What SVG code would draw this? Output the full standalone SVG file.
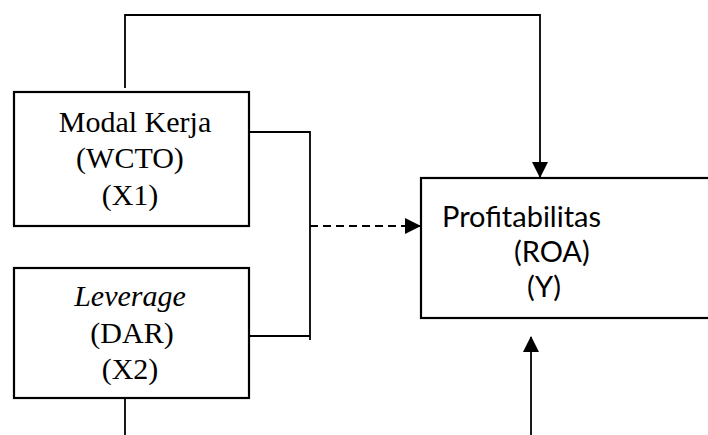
<svg xmlns="http://www.w3.org/2000/svg" width="708" height="435" viewBox="0 0 708 435">
<style>
.box{fill:#fff;stroke:#000;stroke-width:2.2}
.ln{fill:none;stroke:#000;stroke-width:1.8}
.dash{fill:none;stroke:#000;stroke-width:1.8;stroke-dasharray:8 5}
.tm{font-family:"Liberation Serif","Times New Roman",serif;font-size:30px;fill:#000}
.cb{font-family:Lato,"Liberation Sans",sans-serif;font-size:29px;fill:#000}
</style>
<defs>
<marker id="ah" markerWidth="16" markerHeight="16" refX="15" refY="8" orient="auto" markerUnits="userSpaceOnUse">
<path d="M0,0 L16,8 L0,16 Z" fill="#000"/>
</marker>
</defs>
<rect width="708" height="435" fill="#fff"/>
<g id="connectors">
<path class="ln" d="M125,88 V15 H540 V177" marker-end="url(#ah)"/>
<path class="ln" d="M249,132 H310 V340"/>
<path class="ln" d="M249,336 H310"/>
<path class="dash" d="M310,226 H420" marker-end="url(#ah)"/>
<path class="ln" d="M125,398 V435"/>
<path class="ln" d="M531,435 V337" marker-end="url(#ah)"/>
</g>
<g id="x1">
<rect class="box" x="14" y="92" width="235" height="134"/>
<text class="tm" x="135" y="132" text-anchor="middle">Modal Kerja</text>
<text class="tm" x="130" y="168" text-anchor="middle">(WCTO)</text>
<text class="tm" x="130" y="205" text-anchor="middle">(X1)</text>
</g>
<g id="x2">
<rect class="box" x="14" y="268" width="235" height="130"/>
<text class="tm" x="130" y="306" text-anchor="middle" font-style="italic">Leverage</text>
<text class="tm" x="132" y="343" text-anchor="middle">(DAR)</text>
<text class="tm" x="130" y="379" text-anchor="middle">(X2)</text>
</g>
<g id="y">
<rect class="box" x="421" y="178" width="300" height="140"/>
<text class="cb" x="442" y="227">Profitabilitas</text>
<text class="cb" x="514" y="262">(ROA)</text>
<text class="cb" x="527" y="297">(Y)</text>
</g>
</svg>
